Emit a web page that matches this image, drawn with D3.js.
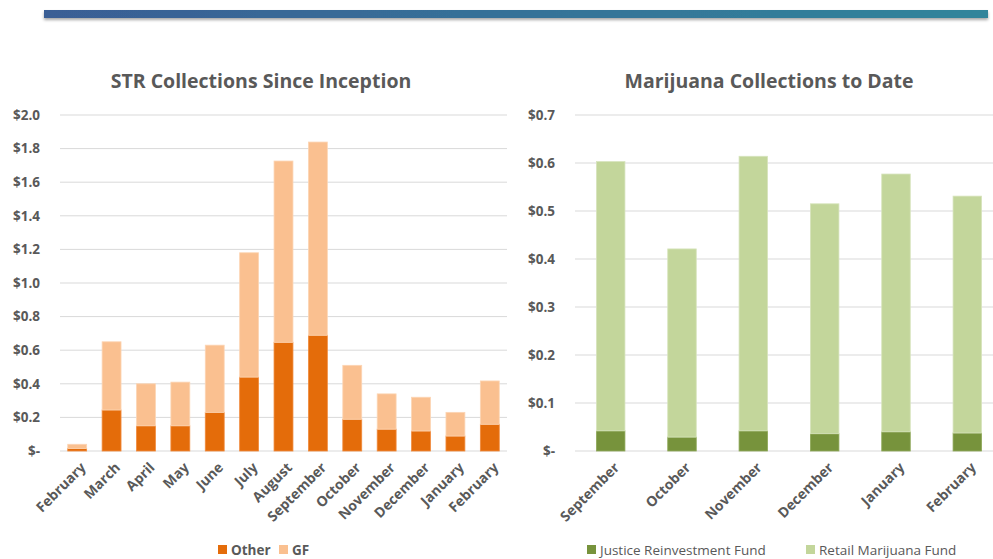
<!DOCTYPE html>
<html><head><meta charset="utf-8">
<script src="https://cdn.jsdelivr.net/npm/d3@7"></script>
<style>body{margin:0;background:#fff}svg{display:block}text{font-family:"Open Sans",Calibri,sans-serif}</style>
</head><body><svg id="c" width="993" height="559"></svg>
<script>
const strMonths = ["February","March","April","May","June","July","August","September","October","November","December","January","February"];
const strOther = [0.015,0.244,0.15,0.15,0.23,0.44,0.647,0.689,0.189,0.13,0.119,0.089,0.159];
const strGF    = [0.025,0.406,0.25,0.26,0.40,0.74,1.079,1.150,0.321,0.21,0.201,0.141,0.258];
const strTicks = [0,0.2,0.4,0.6,0.8,1.0,1.2,1.4,1.6,1.8,2.0];
const mjMonths = ["September","October","November","December","January","February"];
const mjJRF = [0.042,0.029,0.042,0.036,0.040,0.0375];
const mjRMF = [0.561,0.392,0.572,0.479,0.537,0.4935];
const mjTicks = [0,0.1,0.2,0.3,0.4,0.5,0.6,0.7];

const svg = d3.select("#c");
const defs = svg.append("defs");
const g = defs.append("linearGradient").attr("id","bn");
g.append("stop").attr("offset","0%").attr("stop-color","#3A5E95");
g.append("stop").attr("offset","100%").attr("stop-color","#31859B");
const f = defs.append("filter").attr("id","sh").attr("y","-50%").attr("height","250%");
f.append("feDropShadow").attr("dx",0).attr("dy",2).attr("stdDeviation",1.5).attr("flood-color","#000").attr("flood-opacity",0.35);
svg.append("rect").attr("x",44).attr("y",10).attr("width",944).attr("height",8).attr("fill","url(#bn)").attr("filter","url(#sh)");

const fmt = v => v===0 ? "$-" : "$" + v.toFixed(1);
const txt = "#595959";

function chart(o){
  const x = d3.scaleBand().domain(d3.range(o.cats.length)).range([o.x0,o.x1]).paddingInner(o.pad).paddingOuter(o.pad/2);
  const y = d3.scaleLinear().domain([0,o.max]).range([451,115]);
  const gr = svg.append("g");
  gr.append("g").selectAll("line").data(o.ticks).join("line")
    .attr("x1",o.x0).attr("x2",o.x1).attr("y1",d=>y(d)).attr("y2",d=>y(d))
    .attr("stroke","#D9D9D9").attr("stroke-width",1);
  const ax = d3.axisLeft(y).tickValues(o.ticks).tickFormat(fmt).tickSize(0).tickPadding(o.tp);
  const ag = gr.append("g").attr("transform",`translate(${o.x0},0)`).call(ax);
  ag.select(".domain").remove();
  ag.selectAll("text").attr("fill",txt).style("font-size","13.5px").style("font-weight","bold").attr("font-family","'Open Sans',sans-serif");
  o.series.forEach((s,si)=>{
    gr.append("g").selectAll("rect").data(s.vals).join("rect")
      .attr("x",(d,i)=>x(i)).attr("width",x.bandwidth())
      .attr("y",(d,i)=>y(o.base(si,i)+d)).attr("height",(d,i)=>y(o.base(si,i))-y(o.base(si,i)+d))
      .attr("fill",s.color).attr("stroke",s.stroke).attr("stroke-width",0.8);
  });
  gr.append("g").selectAll("text").data(o.cats).join("text")
    .attr("transform",(d,i)=>`translate(${x(i)+x.bandwidth()/2+6},${465}) rotate(-45)`)
    .attr("text-anchor","end").attr("dy","0.35em").attr("fill",txt)
    .style("font-size","14px").style("font-weight","bold").text(d=>d);
  gr.append("text").attr("x",o.tx).attr("y",88).attr("text-anchor","middle").attr("fill",txt)
    .style("font-size","19.5px").style("font-weight","bold").text(o.title);
  o.legend.forEach(l=>{
    gr.append("rect").attr("x",l.x).attr("y",545).attr("width",9).attr("height",9).attr("fill",l.color);
    gr.append("text").attr("x",l.x+13).attr("y",555).attr("fill",txt).style("font-size","13.5px")
      .style("font-weight",l.bold?"bold":"normal").text(l.label);
  });
}

chart({cats:strMonths,x0:60,x1:507,pad:0.45,max:2.0,ticks:strTicks,tp:20,
  series:[{vals:strOther,color:"#E46C0A",stroke:"#F08A3C"},{vals:strGF,color:"#FAC090",stroke:"#FCD5B4"}],
  base:(si,i)=> si===0?0:strOther[i],
  title:"STR Collections Since Inception",tx:261,
  legend:[{x:218,color:"#E46C0A",label:"Other",bold:true},{x:279,color:"#FAC090",label:"GF",bold:true}]});

chart({cats:mjMonths,x0:575,x1:1003,pad:0.6,max:0.7,ticks:mjTicks,tp:20,
  series:[{vals:mjJRF,color:"#77933C",stroke:"#8FA95A"},{vals:mjRMF,color:"#C3D69B",stroke:"#D7E4BD"}],
  base:(si,i)=> si===0?0:mjJRF[i],
  title:"Marijuana Collections to Date",tx:769,
  legend:[{x:587,color:"#77933C",label:"Justice Reinvestment Fund"},{x:806,color:"#C3D69B",label:"Retail Marijuana Fund"}]});
</script></body></html>
